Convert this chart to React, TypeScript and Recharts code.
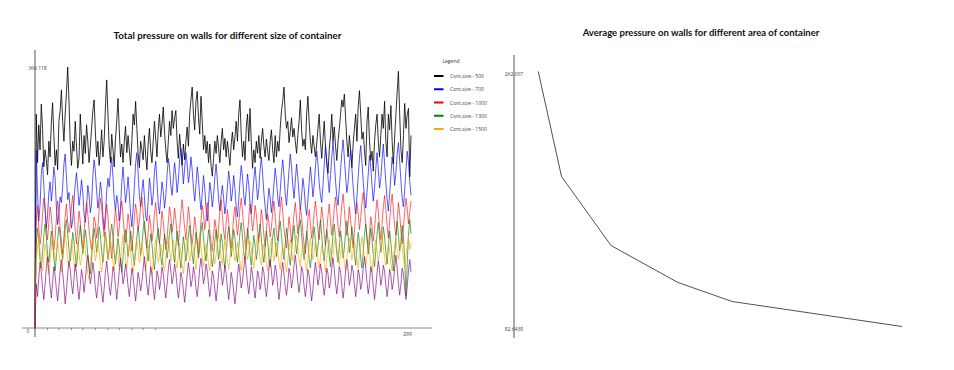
import React from 'react';
import { LineChart, Line, XAxis, YAxis, ReferenceLine, ReferenceDot } from 'recharts';

// ---------- Left chart data: total pressure per time step ----------
const cont500: number[] = [
  0, 300, 232, 285, 250, 314, 280, 226, 250, 236, 215, 262, 240, 288, 316, 270, 228, 250, 222, 290,
  305, 334, 290, 262, 300, 330, 366.118, 320, 260, 228, 262, 248, 290, 255, 224, 238, 300, 265, 230, 270,
  245, 285, 262, 232, 255, 280, 305, 320, 275, 240, 262, 228, 248, 278, 240, 262, 310, 348, 300, 255,
  232, 272, 250, 226, 265, 290, 322, 278, 240, 258, 232, 262, 283, 246, 270, 250, 228, 262, 300, 285,
  318, 280, 245, 225, 262, 250, 236, 270, 242, 222, 258, 280, 248, 232, 262, 290, 265, 240, 278, 300,
  268, 285, 310, 275, 250, 232, 262, 290, 270, 305, 280, 295, 305, 262, 238, 272, 250, 228, 258, 236,
  262, 282, 255, 300, 320, 338, 300, 278, 318, 332, 295, 272, 325, 290, 250, 270, 245, 262, 232, 258,
  228, 213, 238, 262, 245, 270, 252, 232, 262, 280, 250, 266, 240, 262, 245, 228, 258, 275, 250, 268,
  290, 262, 300, 320, 270, 240, 262, 235, 282, 300, 262, 308, 260, 224, 250, 232, 262, 245, 270, 238,
  262, 280, 255, 240, 265, 248, 235, 262, 278, 250, 232, 270, 240, 262, 248, 280, 305, 318, 338, 300,
  280, 290, 260, 275, 295, 268, 280, 262, 245, 270, 290, 320, 278, 255, 265, 250, 300, 325, 290, 262,
  245, 270, 255, 240, 258, 280, 300, 262, 238, 265, 290, 255, 230, 217, 250, 270, 300, 262, 282, 255,
  235, 262, 280, 300, 320, 310, 328, 295, 262, 240, 270, 250, 225, 258, 280, 300, 262, 310, 333, 300,
  265, 275, 250, 228, 290, 310, 262, 235, 248, 220, 262, 285, 300, 262, 240, 270, 300, 280, 318, 262,
  240, 300, 278, 312, 262, 230, 268, 300, 330, 360, 300, 250, 232, 270, 315, 280, 300, 308, 212, 270,
];

const cont700: number[] = [
  0, 250, 190, 150, 172, 215, 232, 200, 168, 140, 158, 190, 205, 178, 196, 226, 210, 170, 145, 160,
  184, 176, 198, 230, 244, 212, 180, 190, 165, 140, 152, 178, 202, 218, 196, 172, 186, 208, 190, 160,
  148, 170, 200, 186, 162, 175, 214, 236, 220, 192, 168, 182, 205, 190, 158, 138, 160, 192, 210, 198,
  220, 240, 212, 180, 165, 186, 174, 150, 168, 204, 226, 200, 176, 190, 212, 188, 160, 142, 166, 198,
  230, 246, 218, 186, 170, 192, 208, 184, 156, 150, 178, 210, 196, 172, 186, 220, 234, 206, 174, 160,
  182, 205, 192, 168, 185, 214, 238, 225, 200, 186, 210, 232, 214, 190, 206, 236, 252, 228, 202, 224,
  246, 230, 204, 218, 240, 222, 196, 178, 200, 226, 210, 184, 166, 190, 214, 196, 168, 150, 176, 204,
  192, 170, 186, 212, 230, 208, 180, 164, 186, 200, 182, 160, 174, 198, 220, 204, 178, 190, 214, 196,
  170, 156, 180, 206, 228, 212, 186, 172, 194, 216, 200, 174, 160, 184, 208, 226, 204, 180, 196, 222,
  240, 216, 190, 170, 152, 174, 196, 184, 162, 178, 202, 224, 208, 184, 170, 192, 218, 236, 214, 188,
  172, 196, 222, 244, 226, 200, 182, 206, 230, 212, 186, 166, 184, 210, 196, 172, 158, 180, 204, 226,
  208, 184, 200, 226, 248, 230, 204, 186, 176, 200, 228, 256, 236, 210, 190, 214, 240, 262, 234, 206,
  184, 172, 196, 222, 246, 264, 238, 212, 190, 204, 230, 250, 224, 198, 176, 160, 184, 212, 238, 256,
  232, 206, 184, 168, 190, 216, 242, 226, 200, 178, 196, 224, 246, 222, 196, 210, 236, 258, 230, 204,
  180, 164, 188, 214, 240, 226, 200, 218, 244, 260, 234, 206, 182, 170, 194, 222, 248, 232, 206, 186,
];

const cont1000: number[] = [
  0, 150, 172, 140, 118, 130, 160, 182, 168, 140, 124, 148, 170, 158, 132, 110, 126, 154, 178, 162,
  140, 120, 104, 128, 156, 174, 150, 134, 146, 170, 186, 160, 136, 118, 140, 164, 150, 126, 112, 134,
  158, 176, 160, 138, 122, 110, 132, 156, 148, 126, 140, 166, 182, 170, 146, 128, 150, 174, 156, 132,
  116, 98, 120, 146, 168, 152, 128, 140, 162, 178, 158, 134, 120, 138, 160, 146, 124, 108, 130, 156,
  174, 160, 138, 150, 170, 184, 162, 140, 126, 112, 134, 158, 144, 122, 136, 160, 176, 154, 130, 118,
  140, 164, 150, 128, 110, 126, 148, 170, 156, 134, 148, 168, 152, 130, 116, 138, 162, 180, 160, 140,
  124, 146, 170, 154, 132, 118, 134, 156, 140, 118, 104, 126, 150, 172, 160, 138, 154, 176, 158, 136,
  120, 108, 130, 152, 140, 122, 140, 164, 180, 158, 136, 124, 146, 166, 150, 128, 112, 132, 156, 170,
  150, 130, 146, 168, 182, 164, 142, 126, 110, 130, 154, 174, 158, 136, 150, 172, 160, 138, 120, 142,
  166, 152, 130, 114, 136, 160, 148, 128, 140, 162, 178, 156, 134, 122, 144, 168, 184, 162, 140, 126,
  112, 134, 156, 140, 120, 138, 160, 176, 154, 132, 148, 170, 156, 134, 118, 104, 128, 152, 166, 146,
  126, 140, 162, 178, 160, 138, 124, 146, 170, 154, 132, 116, 136, 158, 174, 150, 130, 146, 168, 184,
  164, 142, 128, 150, 174, 188, 166, 144, 130, 148, 170, 152, 130, 112, 136, 158, 176, 160, 138, 154,
  176, 190, 168, 146, 128, 110, 132, 156, 142, 122, 138, 162, 180, 164, 140, 124, 146, 170, 186, 166,
  144, 126, 148, 172, 188, 166, 142, 130, 152, 176, 160, 136, 118, 140, 164, 182, 168, 146, 162, 178,
];

const cont1300: number[] = [
  0, 118, 140, 122, 96, 84, 106, 130, 146, 128, 104, 92, 114, 136, 120, 98, 80, 100, 124, 142,
  130, 108, 96, 118, 140, 152, 132, 110, 94, 112, 134, 122, 100, 86, 106, 128, 144, 126, 104, 118,
  138, 124, 102, 88, 76, 98, 120, 140, 126, 106, 120, 142, 130, 108, 92, 112, 134, 118, 96, 110,
  132, 146, 128, 104, 90, 108, 126, 112, 92, 78, 100, 124, 138, 120, 100, 114, 136, 124, 102, 88,
  106, 128, 142, 124, 102, 116, 138, 150, 130, 108, 94, 114, 132, 118, 96, 82, 104, 126, 140, 120,
  100, 88, 110, 132, 118, 98, 112, 134, 146, 126, 104, 92, 114, 136, 122, 100, 84, 106, 128, 114,
  94, 108, 130, 144, 124, 102, 90, 110, 134, 120, 98, 112, 136, 148, 128, 106, 94, 116, 138, 124,
  104, 86, 100, 122, 138, 118, 96, 110, 132, 120, 98, 84, 104, 128, 142, 122, 100, 116, 138, 126,
  106, 92, 112, 134, 148, 128, 106, 96, 118, 140, 124, 102, 88, 108, 130, 116, 96, 110, 132, 146,
  126, 104, 92, 112, 136, 122, 100, 86, 106, 128, 140, 120, 100, 114, 136, 150, 130, 108, 96, 118,
  140, 124, 102, 88, 108, 130, 144, 124, 104, 118, 140, 152, 132, 110, 96, 114, 136, 120, 98, 84,
  104, 126, 142, 122, 100, 114, 138, 152, 130, 108, 94, 116, 138, 124, 102, 86, 108, 132, 146, 126,
  104, 92, 114, 136, 120, 98, 112, 134, 150, 128, 106, 120, 142, 126, 104, 88, 110, 134, 120, 98,
  84, 106, 130, 146, 126, 104, 118, 140, 124, 102, 86, 108, 132, 148, 128, 106, 120, 142, 128, 106,
  90, 112, 136, 120, 98, 80, 104, 128, 150, 130, 108, 122, 144, 126, 96, 45, 90, 130, 152, 132,
];

const cont1500: number[] = [
  0, 96, 112, 128, 110, 90, 80, 98, 118, 106, 88, 76, 94, 116, 130, 112, 94, 104, 122, 108,
  90, 78, 96, 118, 134, 116, 98, 86, 104, 124, 110, 92, 80, 100, 120, 106, 88, 96, 116, 128,
  110, 92, 76, 68, 88, 110, 126, 112, 94, 104, 122, 108, 90, 78, 96, 118, 132, 114, 96, 106,
  124, 110, 92, 80, 98, 114, 102, 86, 96, 116, 130, 112, 96, 84, 102, 120, 106, 90, 78, 94,
  114, 126, 108, 92, 102, 120, 108, 92, 80, 96, 116, 104, 88, 74, 92, 110, 124, 108, 92, 100,
  118, 104, 90, 80, 98, 116, 128, 110, 94, 106, 124, 110, 94, 84, 102, 118, 104, 88, 76, 94,
  112, 126, 110, 94, 104, 122, 112, 96, 82, 100, 118, 132, 114, 98, 86, 102, 118, 106, 90, 80,
  98, 116, 104, 90, 102, 120, 134, 116, 98, 88, 106, 124, 110, 94, 82, 98, 116, 126, 108, 94,
  104, 120, 108, 92, 80, 96, 114, 126, 110, 96, 106, 122, 112, 96, 84, 100, 118, 130, 114, 98,
  88, 102, 118, 106, 92, 80, 98, 116, 126, 110, 94, 104, 120, 108, 92, 82, 100, 116, 106, 90,
  78, 94, 112, 124, 108, 94, 102, 118, 130, 114, 98, 86, 104, 120, 108, 92, 80, 98, 114, 126,
  110, 96, 106, 122, 112, 96, 84, 100, 116, 106, 90, 78, 96, 114, 124, 108, 94, 102, 118, 130,
  114, 98, 88, 104, 120, 108, 92, 80, 98, 114, 126, 110, 96, 106, 122, 112, 96, 84, 100, 116,
  128, 112, 98, 86, 102, 118, 106, 90, 78, 96, 112, 124, 108, 94, 104, 120, 132, 114, 98, 88,
  104, 120, 108, 92, 80, 98, 116, 126, 110, 96, 106, 122, 112, 96, 84, 100, 116, 128, 110, 120,
];

const cont2000: number[] = [
  0, 62, 44, 70, 92, 78, 56, 40, 60, 84, 100, 80, 58, 42, 64, 86, 74, 54, 38, 58,
  80, 96, 78, 58, 34, 52, 76, 94, 82, 62, 48, 68, 90, 76, 56, 40, 60, 82, 70, 50,
  66, 88, 102, 84, 62, 74, 92, 78, 56, 42, 58, 80, 70, 52, 36, 56, 78, 94, 76, 58,
  46, 64, 86, 78, 58, 40, 58, 80, 98, 82, 62, 72, 90, 78, 58, 44, 62, 84, 74, 54,
  38, 56, 78, 68, 52, 64, 84, 100, 82, 60, 46, 64, 86, 76, 56, 40, 58, 80, 72, 54,
  66, 86, 76, 58, 42, 60, 82, 96, 80, 62, 72, 90, 78, 58, 42, 56, 78, 70, 52, 36,
  54, 74, 92, 78, 58, 68, 86, 76, 56, 44, 62, 84, 98, 82, 62, 72, 90, 80, 60, 44,
  58, 80, 72, 54, 38, 54, 76, 94, 80, 60, 70, 88, 76, 56, 40, 56, 78, 68, 50, 34,
  52, 74, 90, 76, 56, 66, 84, 100, 82, 62, 48, 64, 86, 76, 56, 42, 60, 80, 72, 54,
  64, 86, 78, 58, 44, 60, 82, 96, 80, 60, 70, 88, 78, 58, 40, 56, 78, 92, 76, 58,
  46, 62, 84, 76, 56, 68, 88, 102, 84, 64, 50, 66, 86, 78, 58, 44, 60, 82, 74, 54,
  38, 54, 76, 92, 78, 60, 70, 90, 80, 60, 46, 62, 84, 76, 56, 64, 84, 98, 82, 62,
  48, 64, 86, 78, 58, 42, 58, 80, 96, 80, 60, 70, 88, 80, 60, 44, 60, 82, 74, 54,
  64, 84, 100, 84, 64, 48, 62, 86, 78, 58, 40, 56, 78, 94, 80, 60, 70, 88, 80, 60,
  44, 60, 82, 74, 54, 64, 84, 102, 84, 62, 46, 62, 84, 76, 56, 40, 58, 80, 96, 78,
];

const seriesKeys = ['c500', 'c700', 'c1000', 'c1300', 'c1500', 'c2000'];
const seriesColors = ['#000000', '#0000ff', '#ff0000', '#008000', '#ffa500', '#800080'];
const seriesOpacity = [0.8, 0.65, 0.6, 0.65, 0.65, 0.65];
const legendLabels = ['Cont.size - 500', 'Cont.size - 700', 'Cont.size - 1000', 'Cont.size - 1300', 'Cont.size - 1500'];
const leftTickLabels = [0, 299];
const leftMinorTicks = [0, 10, 19, 29, 38, 48, 58, 67, 77, 86, 96];
const leftMax = 366.118;

// ---------- Right chart data: average pressure vs container area ----------
const areas = [250000, 490000, 1000000, 1690000, 2250000, 4000000];
const avgPressure = [262.007, 188.15, 139.6, 113.6, 100.2, 82.6438];

const allSeries = [cont500, cont700, cont1000, cont1300, cont1500, cont2000];
const nPoints = Math.min(...allSeries.map((s) => s.length));
const leftData = Array.from({ length: nPoints }, (_, i) => {
  const row: Record<string, number> = { i };
  seriesKeys.forEach((k, j) => {
    row[k] = allSeries[j][i];
  });
  return row;
});
const rightData = areas.map((a, j) => ({ area: a, p: avgPressure[j] }));

const smallText = (txt: string, dx: number, dy: number) => (props: any) => {
  const vb = props.viewBox || {};
  const cx = (vb.x || 0) + (vb.width || 0) / 2;
  const cy = (vb.y || 0) + (vb.height || 0) / 2;
  return (
    <text
      x={cx + dx}
      y={cy + dy}
      textAnchor="middle"
      dominantBaseline="central"
      fontSize={5}
      fontFamily="'Open Sans', sans-serif"
      fill="#444"
    >
      {txt}
    </text>
  );
};

export default function App() {
  return (
    <div style={{ position: 'absolute', left: 0, top: 0, width: 954, height: 370, background: '#fff' }}>
      <div style={{ position: 'absolute', left: 0, top: 0 }}>
        <LineChart width={480} height={370} data={leftData} margin={{ top: 50, right: 48, bottom: 33, left: 22 }}>
          <XAxis type="number" dataKey="i" domain={[-10.34, 315.7]} hide allowDataOverflow />
          <YAxis type="number" domain={[-12.62, 389.97]} hide allowDataOverflow />
          <ReferenceLine y={0} stroke="#8a8a8a" strokeWidth={1} />
          <ReferenceLine x={0} stroke="#555" strokeWidth={1} />
          {leftMinorTicks.map((t) => (
            <ReferenceLine
              key={'t' + t}
              segment={[{ x: t, y: 0 }, { x: t, y: -3 }]}
              stroke="#888"
              strokeWidth={1}
            />
          ))}
          {seriesKeys.map((k, j) => (
            <Line
              key={k}
              dataKey={k}
              type="linear"
              stroke={seriesColors[j]}
              strokeWidth={1}
              strokeOpacity={seriesOpacity[j]}
              dot={false}
              activeDot={false}
              isAnimationActive={false}
            />
          ))}
          <ReferenceDot x={0} y={leftMax} r={1} fill="none" stroke="none" label={{ content: smallText(String(leftMax), 2.5, 0.7) } as any} />
          <ReferenceDot x={leftTickLabels[0]} y={0} r={1} fill="none" stroke="none" label={{ content: smallText(String(leftTickLabels[0]), -7, 3) } as any} />
          <ReferenceDot x={leftTickLabels[1]} y={0} r={1} fill="none" stroke="none" label={{ content: smallText(String(leftTickLabels[1]), -3.5, 5.5) } as any} />
        </LineChart>
      </div>
      <div style={{ position: 'absolute', left: 480, top: 0 }}>
        <LineChart width={474} height={370} data={rightData} margin={{ top: 55, right: 52, bottom: 32, left: 34 }}>
          <XAxis type="number" dataKey="area" domain={[0, 4000000]} hide allowDataOverflow />
          <YAxis type="number" domain={[74.555, 273.613]} hide allowDataOverflow />
          <ReferenceLine x={0} stroke="#555" strokeWidth={1} />
          <Line
            dataKey="p"
            type="linear"
            stroke="#333"
            strokeWidth={1}
            strokeOpacity={0.85}
            dot={false}
            activeDot={false}
            isAnimationActive={false}
          />
          <ReferenceDot x={0} y={avgPressure[0]} r={1} fill="none" stroke="none" label={{ content: smallText(String(avgPressure[0]), 0, 2.8) } as any} />
          <ReferenceDot x={0} y={avgPressure[avgPressure.length - 1]} r={1} fill="none" stroke="none" label={{ content: smallText(String(avgPressure[avgPressure.length - 1]), 0, 2.2) } as any} />
        </LineChart>
      </div>
      <svg width={954} height={370} style={{ position: 'absolute', left: 0, top: 0, pointerEvents: 'none' }}>
        <text
          x={227.5}
          y={35}
          textAnchor="middle"
          dominantBaseline="central"
          fontFamily="Lato, 'Open Sans', sans-serif"
          fontWeight="bold"
          fontSize={9.5}
          fill="#111"
          textLength={228}
          lengthAdjust="spacingAndGlyphs"
        >
          Total pressure on walls for different size of container
        </text>
        <text
          x={701}
          y={32.7}
          textAnchor="middle"
          dominantBaseline="central"
          fontFamily="Lato, 'Open Sans', sans-serif"
          fontWeight="bold"
          fontSize={9.5}
          fill="#111"
          textLength={236.7}
          lengthAdjust="spacingAndGlyphs"
        >
          Average pressure on walls for different area of container
        </text>
        <text x={451} y={61} textAnchor="middle" dominantBaseline="central" fontSize={5} fontFamily="'Open Sans', sans-serif" fill="#333">
          Legend
        </text>
        {legendLabels.map((lab, j) => (
          <g key={lab}>
            <line x1={434} x2={443.5} y1={76 + j * 13.25} y2={76 + j * 13.25} stroke={seriesColors[j]} strokeWidth={2} />
            <text x={450} y={76 + j * 13.25} dominantBaseline="central" fontSize={5} fontFamily="'Open Sans', sans-serif" fill="#444">
              {lab}
            </text>
          </g>
        ))}
      </svg>
    </div>
  );
}
